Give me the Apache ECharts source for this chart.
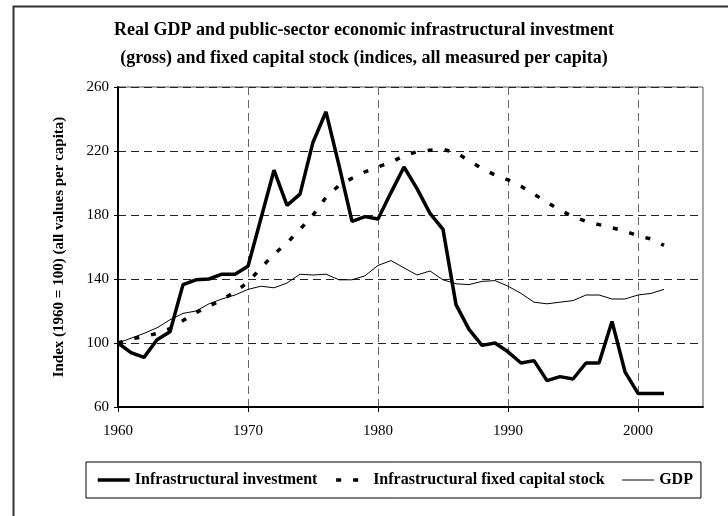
<!DOCTYPE html>
<html>
<head>
<meta charset="utf-8">
<script src="https://cdn.jsdelivr.net/npm/echarts@6/dist/echarts.min.js"></script>
<style>html,body{margin:0;padding:0;background:#fff}#c{width:728px;height:516px}</style>
</head>
<body>
<div id="c"></div>
<script>
var years = [1960,1961,1962,1963,1964,1965,1966,1967,1968,1969,1970,1971,1972,1973,1974,1975,1976,1977,1978,1979,1980,1981,1982,1983,1984,1985,1986,1987,1988,1989,1990,1991,1992,1993,1994,1995,1996,1997,1998,1999,2000,2001,2002];
var investment = [100,94,91,102,107,136.5,139.5,140,143,143,148,178,208,186,193,225.5,244.5,211,176,179,177.5,194,210,196.5,181,171,124,108.5,98.5,100,94.5,87.5,89,76.5,79,77.5,87.5,87.5,113.5,82,68.5,68.5,68.5];
var capitalStock = [100,102.5,104,106,109,114,119,123,127,132,138,147,155.5,162.5,171,180,191,198.5,203,207,210,213,217,219.5,220.5,221,219,214,209,205,202,198,193,188,183,179,176,174,172,170,167,165,161];
var gdp = [100,103,106,109.5,114.5,118.5,120,124.5,127.5,130,133.5,135.5,134.5,137.5,143,142.5,143,139.5,139.5,142,148.5,151.5,147,142.5,145,139.5,137,136.5,138.5,139,135.5,131,125.5,124.5,125.5,126.5,130,130,127.5,127.5,130,131,133.5];
var xTicks = [1960,1970,1980,1990,2000];
var yTicks = [60,100,140,180,220,260];
var seriesNames = ['Infrastructural investment','Infrastructural fixed capital stock','GDP'];
var titleText = 'Real GDP and public-sector economic infrastructural investment\n(gross) and fixed capital stock (indices, all measured per capita)';
var yName = 'Index (1960 = 100) (all values per capita)';

function pairs(vals){ return years.map(function(y,i){ return [y, vals[i]]; }); }
var serif = 'Liberation Serif';
var chart = echarts.init(document.getElementById('c'), null, {renderer:'canvas'});
chart.setOption({
  animation: false,
  backgroundColor: '#fff',
  graphic: [{
    type: 'rect', left: 11, top: 4, z: 100, silent: true,
    shape: {x: 0, y: 0, width: 740, height: 530},
    style: {fill: 'none', stroke: '#333', lineWidth: 2}
  }],
  title: {
    text: titleText, left: 'center', top: 16, padding: 0,
    textStyle: {fontFamily: serif, fontWeight: 'bold', fontSize: 18, lineHeight: 28, color: '#000'}
  },
  grid: {left: 118, top: 87, width: 585, height: 320, show: true, borderColor: '#555', borderWidth: 1, backgroundColor: 'transparent'},
  legend: {
    data: [
      {name: seriesNames[0], lineStyle: {width: 3.5, color: '#000'}},
      {name: seriesNames[1], lineStyle: {width: 3.5, color: '#000', type: [5, 12]}},
      {name: seriesNames[2], lineStyle: {width: 1, color: '#000'}}
    ],
    left: 86, top: 462,
    padding: [10, 8, 10, 10], itemGap: 17, itemWidth: 32, itemHeight: 14,
    borderColor: '#000', borderWidth: 1,
    itemStyle: {opacity: 0},
    textStyle: {fontFamily: serif, fontWeight: 'bold', fontSize: 16, color: '#000'}
  },
  xAxis: {
    type: 'value', min: 1960, max: 2005, interval: 10,
    axisLine: {show: true, lineStyle: {color: '#000', width: 2}},
    axisTick: {show: true, inside: false, length: 5, customValues: xTicks, lineStyle: {color: '#000'}},
    axisLabel: {customValues: xTicks, margin: 17, fontFamily: serif, fontSize: 15, color: '#000',
      formatter: function(v){ return String(v); }},
    splitLine: {show: true, lineStyle: {color: '#666', type: [8, 5], width: 1}}
  },
  yAxis: {
    type: 'value', min: 60, max: 260, interval: 40,
    name: yName, nameLocation: 'middle', nameGap: 51,
    nameTextStyle: {fontFamily: serif, fontWeight: 'bold', fontSize: 15, color: '#000'},
    axisLine: {show: true, lineStyle: {color: '#000', width: 2}},
    axisTick: {show: true, inside: false, length: 4, customValues: yTicks, lineStyle: {color: '#000'}},
    axisLabel: {customValues: yTicks, margin: 9, fontFamily: serif, fontSize: 15, color: '#000'},
    splitLine: {show: true, lineStyle: {color: '#222', type: [8, 5], width: 1}}
  },
  series: [
    {name: seriesNames[0], type: 'line', data: pairs(investment), symbol: 'none', z: 4,
     lineStyle: {color: '#000', width: 3.5}, itemStyle: {color: '#000'}},
    {name: seriesNames[1], type: 'line', data: pairs(capitalStock), symbol: 'none', z: 3,
     lineStyle: {color: '#000', width: 3.5, type: [5, 12]}, itemStyle: {color: '#000'}},
    {name: seriesNames[2], type: 'line', data: pairs(gdp), symbol: 'none', z: 2,
     lineStyle: {color: '#000', width: 1}, itemStyle: {color: '#000'}}
  ]
});
</script>
</body>
</html>
